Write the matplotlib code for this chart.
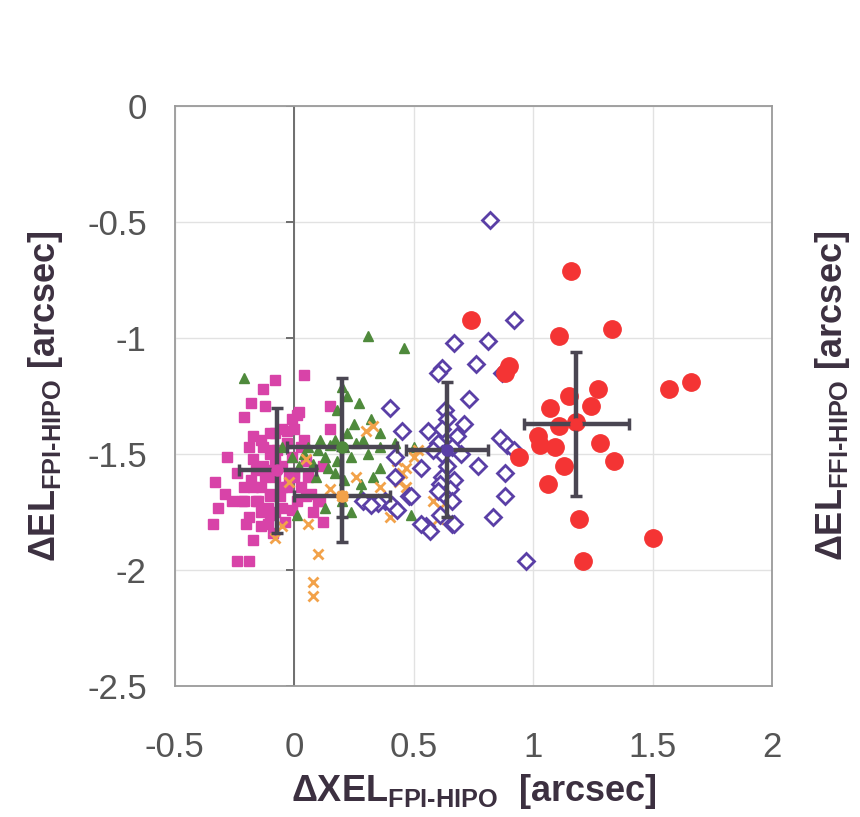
import matplotlib
matplotlib.use("Agg")
import matplotlib.pyplot as plt

plt.rcParams['font.family'] = ['Liberation Sans', 'DejaVu Sans']
plt.rcParams['mathtext.fontset'] = 'custom'
plt.rcParams['mathtext.rm'] = 'Liberation Sans:bold'
plt.rcParams['mathtext.it'] = 'Liberation Sans:bold'
plt.rcParams['mathtext.bf'] = 'Liberation Sans:bold'

# ---------------- data ----------------
mag_x = [0.04, -0.08, -0.13, -0.18, -0.12, -0.21, 0.02, 0.15, 0.15, -0.17, -0.10, -0.05, -0.01,
         -0.28, -0.17, -0.10, -0.33, -0.29, -0.32, -0.34, -0.22, -0.18, -0.14, -0.08, -0.05, -0.03,
         0.01, 0.06, 0.10, -0.19, -0.14, -0.17, -0.24, -0.19, -0.10, -0.05, 0.12, -0.10, -0.13,
         -0.01, 0.03, -0.15, -0.05, 0.00, 0.07, -0.07, -0.13, -0.21, -0.04, -0.11, 0.00, 0.04,
         -0.19, -0.01, 0.03, -0.26, -0.14, -0.10, -0.08, -0.02, -0.12, -0.06, 0.05, -0.16, -0.09,
         0.08, -0.03, 0.12, -0.24, -0.20,
         -0.16, -0.10, 0.05, -0.21, -0.03, -0.08, -0.14, 0.01, -0.09, 0.00, -0.17, -0.08, -0.11,
         0.11]
mag_y = [-1.16, -1.18, -1.22, -1.28, -1.29, -1.34, -1.32, -1.29, -1.39, -1.42, -1.41, -1.39, -1.35,
         -1.51, -1.52, -1.50, -1.62, -1.67, -1.73, -1.80, -1.70, -1.61, -1.64, -1.60, -1.55, -1.64,
         -1.70, -1.60, -1.70, -1.77, -1.81, -1.87, -1.96, -1.96, -1.76, -1.73, -1.79, -1.67, -1.55,
         -1.51, -1.47, -1.70, -1.64, -1.58, -1.67, -1.48, -1.47, -1.64, -1.79, -1.73, -1.39, -1.44,
         -1.47, -1.74, -1.64, -1.70, -1.75, -1.57, -1.53, -1.60, -1.60, -1.68, -1.53, -1.57, -1.84,
         -1.75, -1.45, -1.55, -1.58, -1.80,
         -1.70, -1.68, -1.68, -1.70, -1.40, -1.41, -1.44, -1.33, -1.48, -1.60, -1.64, -1.75, -1.80,
         -1.70]

grn_x = [0.31, 0.46, -0.21, 0.20, 0.22, 0.27, 0.18, 0.32, 0.25, 0.22, 0.36, 0.29, 0.36, 0.06, 0.10,
         0.13, 0.08, 0.14, 0.18, 0.24, 0.31, -0.01, -0.05, 0.02, 0.17, 0.21, 0.28, 0.13, 0.01, 0.49,
         0.28, 0.42, 0.50, 0.36, 0.20, 0.17, 0.11, 0.21, 0.04, 0.15, 0.26, 0.09, 0.33, 0.24, 0.40]
grn_y = [-0.99, -1.04, -1.17, -1.21, -1.25, -1.28, -1.31, -1.35, -1.37, -1.41, -1.41, -1.44, -1.47,
         -1.47, -1.48, -1.51, -1.54, -1.56, -1.53, -1.51, -1.50, -1.51, -1.47, -1.55, -1.58, -1.61,
         -1.63, -1.73, -1.76, -1.76, -1.67, -1.45, -1.47, -1.56, -1.70, -1.44, -1.44, -1.47, -1.50,
         -1.46, -1.45, -1.60, -1.60, -1.75, -1.70]

org_x = [0.30, 0.33, 0.20, 0.40, 0.10, 0.08, 0.08, -0.05, -0.08, 0.06, 0.43, 0.47, 0.50, 0.45,
         0.58, 0.61, 0.60, 0.47, 0.26, 0.36, 0.15, 0.52, 0.44, 0.05, -0.02]
org_y = [-1.40, -1.38, -1.68, -1.77, -1.93, -2.05, -2.11, -1.81, -1.86, -1.80, -1.53, -1.56, -1.51,
         -1.58, -1.70, -1.73, -1.78, -1.64, -1.60, -1.64, -1.65, -1.48, -1.62, -1.52, -1.62]

pur_x = [0.82, 0.92, 0.67, 0.81, 0.62, 0.76, 0.87, 0.73, 0.40, 0.63, 0.56, 0.71, 0.86, 0.89, 0.92,
         0.77, 0.88, 0.62, 0.67, 0.88, 0.83, 0.55, 0.66, 0.97, 0.42, 0.48, 0.38, 0.60, 0.64, 0.62,
         0.68, 0.60, 0.66, 0.62, 0.58, 0.70, 0.64, 0.61, 0.65, 0.63, 0.66, 0.60, 0.42, 0.29, 0.35,
         0.41, 0.43, 0.53, 0.57, 0.67, 0.61, 0.53, 0.49, 0.32, 0.45]
pur_y = [-0.49, -0.92, -1.02, -1.01, -1.13, -1.11, -1.15, -1.26, -1.30, -1.31, -1.40, -1.37, -1.43,
         -1.46, -1.48, -1.55, -1.58, -1.60, -1.61, -1.68, -1.77, -1.81, -1.80, -1.96, -1.60, -1.68,
         -1.70, -1.15, -1.35, -1.39, -1.42, -1.45, -1.47, -1.50, -1.48, -1.50, -1.55, -1.63, -1.65,
         -1.68, -1.70, -1.66, -1.51, -1.70, -1.71, -1.72, -1.74, -1.80, -1.83, -1.80, -1.76, -1.56,
         -1.68, -1.72, -1.40]

red_x = [1.16, 0.74, 1.33, 1.11, 0.90, 0.88, 1.57, 1.66, 1.27, 1.15, 1.24, 1.07, 1.18, 1.11, 1.02,
         1.03, 1.09, 1.28, 0.94, 1.34, 1.13, 1.06, 1.19, 1.50, 1.21]
red_y = [-0.71, -0.92, -0.96, -0.99, -1.12, -1.15, -1.22, -1.19, -1.22, -1.25, -1.29, -1.30, -1.36,
         -1.38, -1.42, -1.46, -1.47, -1.45, -1.51, -1.53, -1.55, -1.63, -1.78, -1.86, -1.96]

# mean +/- sigma crosses: magenta, green, orange, purple, red
mean_x = [-0.07, 0.20, 0.20, 0.64, 1.18]
mean_y = [-1.57, -1.47, -1.68, -1.48, -1.37]
sig_x = [0.16, 0.23, 0.20, 0.17, 0.22]
sig_y = [0.27, 0.30, 0.20, 0.29, 0.31]

x_ticks = [-0.5, 0, 0.5, 1, 1.5, 2]
y_ticks = [0, -0.5, -1, -1.5, -2, -2.5]
x_ticklabels = ['-0.5', '0', '0.5', '1', '1.5', '2']
y_ticklabels = ['0', '-0.5', '-1', '-1.5', '-2', '-2.5']

C_MAG = '#d843a8'
C_GRN = '#4f8a3c'
C_ORG = '#f2a24a'
C_PUR = '#5a3fa6'
C_RED = '#f43434'
C_BAR = '#4a4652'
C_TXT = '#3c3040'

fig = plt.figure(figsize=(8.6, 8.17), dpi=100)
ax = fig.add_axes([0.203, 0.16, 0.695, 0.71])
ax.set_xlim(-0.5, 2)
ax.set_ylim(-2.5, 0)

ax.set_xticks(x_ticks)
ax.set_xticklabels(x_ticklabels)
ax.set_yticks(y_ticks)
ax.set_yticklabels(y_ticklabels)
ax.tick_params(axis='both', length=0, labelsize=25, colors='#555555')
ax.tick_params(axis='x', pad=32)
ax.tick_params(axis='y', pad=20)
ax.grid(True, color='#e2e2e2', linewidth=1.0)
ax.set_axisbelow(True)
for s in ax.spines.values():
    s.set_color('#9a9a9a')
    s.set_linewidth(1.3)

# vertical value axis crossing at x = 0 with small tick marks
ax.axvline(0, color='#6e6e6e', linewidth=1.4, zorder=1)
ax.hlines(y_ticks, -0.035, 0, colors='#6e6e6e', linewidth=1.4, zorder=1)

ax.plot(mag_x, mag_y, linestyle='none', marker='s', markersize=7.5, color=C_MAG, zorder=3)
ax.plot(grn_x, grn_y, linestyle='none', marker='^', markersize=7.5, color=C_GRN, zorder=3)
ax.plot(org_x, org_y, linestyle='none', marker='x', markersize=7, markeredgewidth=2.0,
        color=C_ORG, zorder=3)
ax.plot(pur_x, pur_y, linestyle='none', marker='D', markersize=8, markerfacecolor='white',
        markeredgecolor=C_PUR, markeredgewidth=2.0, zorder=4)
ax.plot(red_x, red_y, linestyle='none', marker='o', markersize=12.5, color=C_RED, zorder=5)

ax.errorbar(mean_x, mean_y, xerr=sig_x, yerr=sig_y, fmt='none', ecolor=C_BAR,
            elinewidth=3.2, capsize=4, capthick=2.5, zorder=6)
center_colors = [C_MAG, C_GRN, C_ORG, C_PUR, C_RED]
for mx, my, cc in zip(mean_x, mean_y, center_colors):
    ax.plot([mx], [my], marker='o', markersize=8, color=cc, linestyle='none', zorder=7)

ax.set_xlabel('ΔXEL$_{\\mathrm{FPI\\text{-}HIPO}}$  [arcsec]', fontsize=26, fontweight='bold',
              color=C_TXT, labelpad=6)
ax.set_ylabel('ΔEL$_{\\mathrm{FPI\\text{-}HIPO}}$ [arcsec]', fontsize=26, fontweight='bold',
              color=C_TXT, labelpad=16)
fig.text(0.968, 0.515, 'ΔEL$_{\\mathrm{FFI\\text{-}HIPO}}$ [arcsec]', rotation=90, fontsize=26,
         fontweight='bold', color=C_TXT, ha='center', va='center')

fig.savefig('out.png', dpi=100, facecolor='white')
